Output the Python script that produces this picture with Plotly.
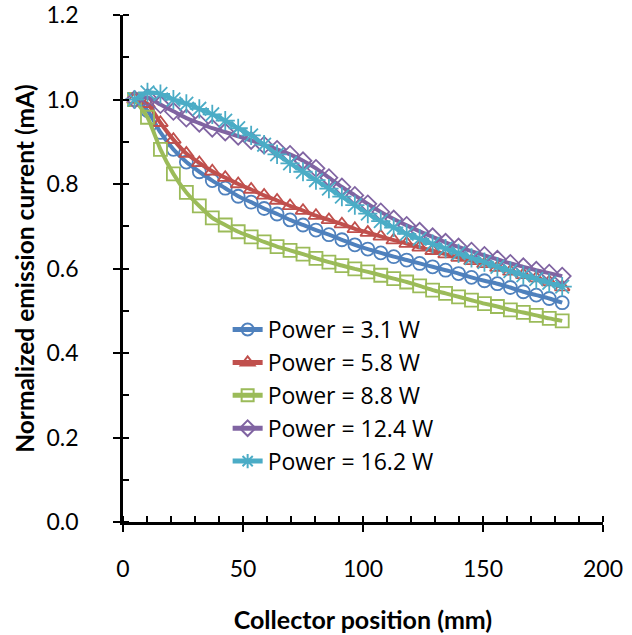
import plotly.graph_objects as go

position_mm = [4.8, 10.2, 15.6, 21.0, 26.4, 31.8, 37.2, 42.6, 48.0, 53.4, 58.8, 64.2,
               69.6, 75.0, 80.4, 85.8, 91.2, 96.6, 102.0, 107.4, 112.8, 118.2, 123.6,
               129.0, 134.4, 139.8, 145.2, 150.6, 156.0, 161.4, 166.8, 172.2, 177.6, 183.0]

power_3_1 = [1.000, 0.974, 0.922, 0.882, 0.852, 0.829, 0.808, 0.790, 0.771, 0.757, 0.742, 0.729,
             0.715, 0.703, 0.691, 0.680, 0.668, 0.656, 0.646, 0.637, 0.628, 0.620, 0.612,
             0.604, 0.596, 0.588, 0.579, 0.571, 0.564, 0.555, 0.545, 0.537, 0.529, 0.519]

power_5_8 = [1.000, 0.990, 0.945, 0.905, 0.872, 0.850, 0.830, 0.815, 0.800, 0.787, 0.773, 0.761,
             0.748, 0.737, 0.725, 0.715, 0.705, 0.694, 0.685, 0.676, 0.667, 0.659, 0.650,
             0.642, 0.634, 0.626, 0.618, 0.611, 0.602, 0.593, 0.585, 0.577, 0.568, 0.556]

power_8_8 = [1.000, 0.958, 0.882, 0.824, 0.780, 0.748, 0.720, 0.703, 0.687, 0.675, 0.663, 0.652,
             0.643, 0.634, 0.624, 0.615, 0.607, 0.599, 0.592, 0.584, 0.576, 0.568, 0.559,
             0.549, 0.541, 0.533, 0.525, 0.517, 0.510, 0.502, 0.496, 0.489, 0.482, 0.476]

power_12_4 = [1.000, 1.005, 0.988, 0.972, 0.956, 0.944, 0.932, 0.923, 0.913, 0.903, 0.892, 0.882,
              0.870, 0.855, 0.837, 0.815, 0.793, 0.773, 0.753, 0.734, 0.717, 0.702, 0.688,
              0.675, 0.662, 0.651, 0.641, 0.631, 0.622, 0.612, 0.604, 0.596, 0.589, 0.582]

power_16_2 = [1.000, 1.017, 1.013, 1.000, 0.990, 0.978, 0.965, 0.950, 0.932, 0.915, 0.893, 0.870,
              0.849, 0.829, 0.809, 0.789, 0.770, 0.750, 0.730, 0.712, 0.697, 0.682, 0.670,
              0.658, 0.647, 0.636, 0.625, 0.615, 0.604, 0.594, 0.584, 0.575, 0.566, 0.557]

series_names = ["Power = 3.1 W", "Power = 5.8 W", "Power = 8.8 W", "Power = 12.4 W", "Power = 16.2 W"]
series_values = [power_3_1, power_5_8, power_8_8, power_12_4, power_16_2]
colors = ["#4F81BD", "#C0504D", "#9BBB59", "#8064A2", "#4BACC6"]
symbols = ["circle-open", "triangle-up-open", "square-open", "diamond-open", "asterisk-open"]
sizes = [13, 13, 13, 13, 16]

FONT = "Lato"

fig = go.Figure()
for name, vals, col, sym, sz in zip(series_names, series_values, colors, symbols, sizes):
    fig.add_trace(go.Scatter(
        x=position_mm, y=vals, mode="lines+markers", name=name,
        line=dict(color=col, width=4, shape="spline", smoothing=0.6),
        marker=dict(symbol=sym, size=sz, color=col, line=dict(color=col, width=1.8)),
    ))

fig.update_layout(
    width=632, height=635,
    margin=dict(l=123, r=29, t=15, b=113),
    paper_bgcolor="white", plot_bgcolor="white",
    font=dict(family=FONT, size=23, color="black"),
    showlegend=True,
    legend=dict(
        x=0.218, y=0.422, xanchor="left", yanchor="top",
        bgcolor="rgba(0,0,0,0)", borderwidth=0,
        font=dict(family="Open Sans", size=23, color="black"),
        itemsizing="constant",
    ),
    xaxis=dict(
        range=[0, 200], tickmode="linear", tick0=0, dtick=50,
        showgrid=False, zeroline=False, automargin=False,
        showline=True, linecolor="black", linewidth=2.5,
        ticks="outside", ticklen=7, tickwidth=2, tickcolor="black",
        ticklabelstandoff=18,
        tickfont=dict(family=FONT, size=23, color="black"),
        minor=dict(ticks="inside", dtick=10, ticklen=6, tickwidth=1.5, tickcolor="black", showgrid=False),
        title=dict(text="<b>Collector position (mm)</b>", font=dict(family=FONT, size=25, color="black"), standoff=31),
    ),
    yaxis=dict(
        range=[0, 1.2], tickmode="linear", tick0=0, dtick=0.2, tickformat=".1f",
        showgrid=False, zeroline=False, automargin=False,
        showline=True, linecolor="black", linewidth=2.5,
        ticks="outside", ticklen=7, tickwidth=2, tickcolor="black",
        ticklabelstandoff=30,
        tickfont=dict(family=FONT, size=23, color="black"),
        minor=dict(ticks="inside", dtick=0.1, ticklen=6, tickwidth=1.5, tickcolor="black", showgrid=False),
        title=dict(text="<b>Normalized emission current (mA)</b>", font=dict(family=FONT, size=24.5, color="black"), standoff=5),
    ),
)

fig.write_html("out.html", config={"displayModeBar": False},
               post_script="document.body.style.margin='0';")
